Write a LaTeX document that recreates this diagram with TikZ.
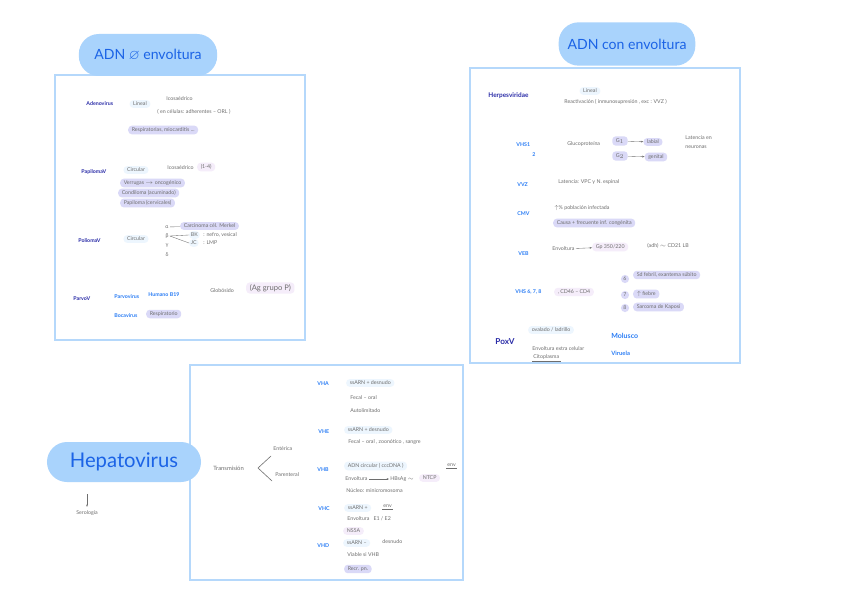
\documentclass[tikz,border=0pt]{standalone}
\usepackage{amssymb}
\usepackage{fontspec}
\setmainfont{Lato}
\usetikzlibrary{arrows.meta}

\definecolor{panelline}{HTML}{B5D8FB}
\definecolor{bubblefill}{HTML}{A9D3FC}
\definecolor{titleblue}{HTML}{1B63E6}
\definecolor{navy}{HTML}{2B2DA8}
\definecolor{virblue}{HTML}{2A7DF5}
\definecolor{notegray}{HTML}{6E6E6E}
\definecolor{lavfill}{HTML}{DAD9F7}
\definecolor{litefill}{HTML}{EDF6FE}
\definecolor{pinkfill}{HTML}{F5EDFA}

\newcommand{\notesz}{\fontsize{4.5}{5.4}\selectfont}

\tikzset{
  panel/.style={draw=panelline, line width=1.3pt},
  bubble/.style={fill=bubblefill, rounded corners=0.6cm, text=titleblue},
  txt/.style={font=\notesz, text=notegray, inner sep=1pt, anchor=west},
  head/.style={font=\notesz\bfseries, text=navy, inner sep=1pt, anchor=west},
  vir/.style={font=\notesz\bfseries, text=virblue, inner sep=1pt, anchor=west},
  pill/.style={rounded corners=3pt, inner xsep=3pt, inner ysep=1.6pt, font=\notesz, text=notegray, anchor=west},
  lav/.style={pill, fill=lavfill},
  lite/.style={pill, fill=litefill},
  pinkpill/.style={pill, fill=pinkfill},
  num/.style={circle, fill=lavfill, inner sep=1pt, font=\notesz, text=notegray},
  link/.style={draw=notegray, line width=0.3pt},
  uline/.style={draw=notegray, line width=0.3pt}
}

\begin{document}
\begin{tikzpicture}[x=0.03cm, y=-0.03cm, >={Stealth[length=2pt]}]
    % Page frame, fixes the margins
    \fill[white] (0,0) rectangle (848,599);
    \useasboundingbox (0,0) rectangle (848,599);

    % The three note panels
    \draw[panel] (55,75) rectangle (305,340);
    \draw[panel] (470,68) rectangle (740,363);
    \draw[panel] (190,365) rectangle (463,580);

    % Title bubbles
    \node[bubble, minimum width=4.15cm, minimum height=1.26cm, font=\large] (t1) at (148,55) {ADN $\varnothing$ envoltura};
    \node[bubble, minimum width=4.1cm, minimum height=1.3cm, font=\large] (t2) at (627,44) {ADN con envoltura};
    \node[bubble, minimum width=4.62cm, minimum height=1.2cm, font=\LARGE] (t3) at (124,462) {Hepatovirus};

    % Hepatovirus note
    \node[txt, anchor=center] (sero) at (87,513) {Serología};
    \coordinate (seroTop) at (87,494);
    \draw[->, link] (seroTop) -- ([yshift=2pt]sero.north);

    % ---- ADN sin envoltura ----
    % Adenovirus
    \node[head] (adeno) at (85,104) {Adenovirus};
    \node[lite, anchor=center] (adLin) at (140,104) {Lineal};
    \node[txt] (adIco) at (165,99) {Icosaédrico};
    \node[txt] (adCel) at (156,112) {( en células: adherentes – ORL )};
    \node[lav] (adResp) at (128,130) {Respiratorias, miocarditis ...};

    % Papiloma
    \node[head] (papi) at (80,172) {PapilomaV};
    \node[lite, anchor=center] (paCir) at (136,170) {Circular};
    \node[txt] (paIco) at (166,168) {Icosaédrico};
    \node[pinkpill] (paNum) at (197,167) {(1-4)};
    \node[lav] (paVer) at (120,183) {Verrugas $\to$ oncogénico};
    \node[lav] (paCon) at (118,193) {Condiloma (acuminado)};
    \node[lav] (paPap) at (120,203) {Papiloma (cervicales)};

    % Polioma
    \node[head] (polio) at (77,241) {PoliomaV};
    \node[lite, anchor=center] (poCir) at (136,239) {Circular};
    \node[txt, anchor=center] (alfa) at (167,227) {α};
    \node[txt, anchor=center] (beta) at (167,236) {β};
    \node[txt, anchor=center] (gamma) at (167,246) {γ};
    \node[txt, anchor=center] (delta) at (167,255) {δ};
    \node[lav] (merkel) at (180,226) {Carcinoma cél. Merkel};
    \node[lite, inner xsep=1.5pt] (bk) at (189,235) {BK};
    \node[lite, inner xsep=1.5pt] (jc) at (189,243) {JC};
    \node[txt] (bkTxt) at (202,235) {: nefro, vesical};
    \node[txt] (jcTxt) at (202,243) {: LMP};
    \draw[link] (alfa) -- (merkel);
    \draw[link] (beta.east) -- (bk.west);
    \draw[link] (beta.east) -- (jc.west);

    % Parvo
    \node[head] (parvo) at (72,299) {ParvoV};
    \node[vir] (parvoV) at (113,297) {Parvovirus};
    \node[vir] (b19) at (147,295) {Humano B19};
    \node[txt] (glob) at (209,291) {Globósido};
    \node[pinkpill, font=\fontsize{6.5}{7}\selectfont] (agP) at (246,288) {(Ag grupo P)};
    \node[vir] (boca) at (113,316) {Bocavirus};
    \node[lav] (bocaResp) at (146,314) {Respiratorio};

    % ---- ADN con envoltura ----
    % Herpesviridae
    \node[head, font=\fontsize{5.5}{6}\selectfont\bfseries] (herpes) at (487,96) {Herpesviridae};
    \node[lite, anchor=center] (heLin) at (590,91) {Lineal};
    \node[txt] (heReac) at (563,102) {Reactivación ( inmunosupresión , exc : VVZ )};

    % VHS
    \node[vir] (vhs) at (515,145) {VHS1};
    \node[vir] (vhs2) at (531,155) {2};
    \node[txt] (gluco) at (566,144) {Glucoproteína};
    \node[lav, anchor=center] (g1) at (620,141) {G$_1$};
    \node[lav, anchor=center] (labial) at (653,142) {labial};
    \node[lav, anchor=center] (g2) at (620,156) {G$_2$};
    \node[lav, anchor=center] (genital) at (656,157) {genital};
    \draw[->, link] (g1) -- (labial);
    \draw[->, link] (g2) -- (genital);
    \node[txt] (latNeu) at (684,138) {Latencia en};
    \node[txt] (latNeu2) at (684,147) {neuronas};

    % VVZ
    \node[vir] (vvz) at (516,185) {VVZ};
    \node[txt] (vvzLat) at (557,182) {Latencia: VPC y N. espinal};

    % CMV
    \node[vir] (cmv) at (516,214) {CMV};
    \node[txt] (cmvPob) at (553,208) {$\uparrow$\% población infectada};
    \node[lav] (cmvCon) at (553,223) {Causa + frecuente inf. congénita};

    % VEB
    \node[vir] (veb) at (517,254) {VEB};
    \node[txt] (vebEnv) at (551,249) {Envoltura};
    \node[pinkpill] (gp) at (592,247) {Gp 350/220};
    \node[txt] (cd21) at (646,246) {(adh) $\sim$ CD21 LB};
    \draw[->, link] (vebEnv) -- (gp);

    % VHS 6,7,8
    \node[vir] (vhs678) at (514,292) {VHS 6, 7, 8};
    \node[pinkpill] (cd46) at (554,292) {, CD46 – CD4};
    \node[num] (n6) at (625,279) {6};
    \node[num] (n7) at (625,295) {7};
    \node[num] (n8) at (625,308) {8};
    \node[lav] (sdFeb) at (633,275) {Sd febril, exantema súbito};
    \node[lav] (fiebre) at (633,294) {$\uparrow$ fiebre};
    \node[lav] (kaposi) at (633,307) {Sarcoma de Kaposi};

    % Pox
    \node[head, font=\fontsize{7}{8}\selectfont\bfseries] (pox) at (494,342) {PoxV};
    \node[lite] (ovalado) at (528,330) {ovalado / ladrillo};
    \node[txt] (poxEnv) at (531,349) {Envoltura extra celular};
    \node[txt] (citoplasma) at (532,357) {Citoplasma};
    \draw[uline] (citoplasma.south west) -- (citoplasma.south east);
    \node[vir, font=\fontsize{6}{7}\selectfont\bfseries] (molusco) at (610,336) {Molusco};
    \node[vir, font=\fontsize{5}{6}\selectfont\bfseries] (viruela) at (610,353) {Viruela};

    % ---- Hepatovirus ----
    \node[txt, font=\fontsize{5}{6}\selectfont] (trans) at (212,468) {Transmisión};
    \node[txt] (enterica) at (272,449) {Entérica};
    \node[txt] (parenteral) at (274,475) {Parenteral};
    \coordinate (brTop) at (271,456);
    \coordinate (brTip) at (258,468);
    \coordinate (brBot) at (272,481);
    \draw[link, line width=0.5pt] (brTop) -- (brTip) -- (brBot);

    % VHA
    \node[vir] (vha) at (316,384) {VHA};
    \node[lite] (vhaArn) at (346,383) {ssARN + desnudo};
    \node[txt] (vhaFec) at (349,398) {Fecal – oral};
    \node[txt] (vhaAut) at (349,411) {Autolimitado};

    % VHE
    \node[vir] (vhe) at (317,432) {VHE};
    \node[lite] (vheArn) at (344,430) {ssARN + desnudo};
    \node[txt] (vheFec) at (347,442) {Fecal – oral , zoonótico , sangre};

    % VHB
    \node[vir] (vhb) at (316,470) {VHB};
    \node[lite] (vhbAdn) at (344,466) {ADN circular ( cccDNA )};
    \node[txt] (vhbEnv) at (446,465) {env};
    \draw[uline] (vhbEnv.south west) -- (vhbEnv.south east);
    \node[txt] (vhbEnvol) at (344,479) {Envoltura};
    \node[txt] (hbsag) at (389,479) {HBsAg $\sim$};
    \node[pinkpill] (ntcp) at (419,478) {NTCP};
    \node[txt] (vhbNuc) at (345,491) {Núcleo: minicromosoma};
    \draw[->, link] (vhbEnvol) -- (hbsag);

    % VHC
    \node[vir] (vhc) at (317,509) {VHC};
    \node[lite] (vhcArn) at (344,508) {ssARN +};
    \node[txt] (vhcEnv) at (382,506) {env};
    \draw[uline] (vhcEnv.south west) -- (vhcEnv.south east);
    \node[txt] (vhcE) at (346,519) {Envoltura \ \ E1 / E2};
    \node[pinkpill] (ns5a) at (343,531) {NS5A};

    % VHD
    \node[vir] (vhd) at (316,546) {VHD};
    \node[lite] (vhdArn) at (343,543) {ssARN –};
    \node[txt] (vhdDes) at (381,542) {desnudo};
    \node[txt] (vhdVia) at (346,555) {Viable si VHB};
    \node[lav] (vhdRec) at (344,569) {Recr. pn.};
\end{tikzpicture}
\end{document}
